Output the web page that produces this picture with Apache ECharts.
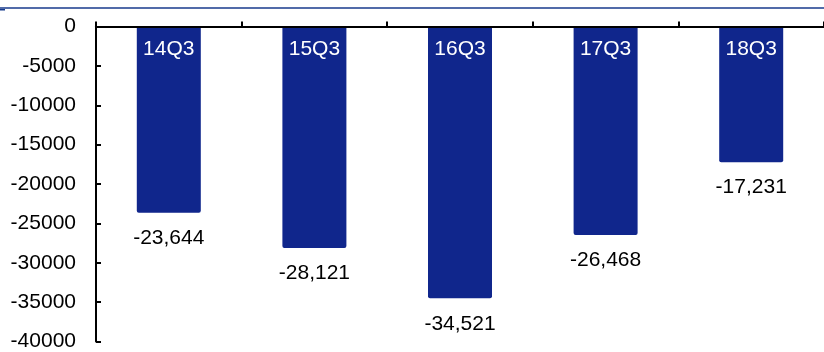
<!DOCTYPE html>
<html>
<head>
<meta charset="utf-8">
<script src="https://cdn.jsdelivr.net/npm/echarts@6/dist/echarts.min.js"></script>
<style>
  html, body { margin: 0; padding: 0; background: #fff; }
  #chart { width: 824px; height: 352px; }
</style>
</head>
<body>
<div id="chart"></div>
<script>
// Quarterly values (Q3 of each year)
const categories = ['14Q3', '15Q3', '16Q3', '17Q3', '18Q3'];
const values = [-23644, -28121, -34521, -26468, -17231];
const yTicks = { min: -40000, max: 0, step: 5000 };

const FONT = '"Liberation Sans", Arial, sans-serif';
const BAR_COLOR = '#10268c';

function withCommas(v) {
  const s = String(Math.abs(v)).replace(/\B(?=(\d{3})+(?!\d))/g, ',');
  return (v < 0 ? '-' : '') + s;
}

const chart = echarts.init(document.getElementById('chart'), null, { renderer: 'canvas' });

chart.setOption({
  animation: false,
  backgroundColor: '#ffffff',
  grid: { left: 96, right: -5, top: 26.5, bottom: 10, containLabel: false },
  graphic: [
    { type: 'line', shape: { x1: 0, y1: 8, x2: 824, y2: 8 },
      style: { stroke: '#173a8c', lineWidth: 1.5 } },
    { type: 'rect', shape: { x: 0, y: 9, width: 5, height: 1.5 },
      style: { fill: '#173a8c' } }
  ],
  xAxis: {
    type: 'category',
    data: categories,
    position: 'top',
    z: 10,
    axisLine: { show: true, lineStyle: { color: '#000', width: 2 } },
    axisTick: { show: true, inside: false, length: 5, lineStyle: { color: '#000', width: 2 } },
    axisLabel: {
      inside: true, margin: 12, color: '#ffffff',
      fontFamily: FONT, fontSize: 21
    },
    splitLine: { show: false }
  },
  yAxis: {
    type: 'value',
    min: yTicks.min, max: yTicks.max, interval: yTicks.step,
    axisLine: { show: true, lineStyle: { color: '#000', width: 2 } },
    axisTick: { show: true, inside: true, length: 5, lineStyle: { color: '#000', width: 2 } },
    axisLabel: {
      margin: 20, color: '#000', fontFamily: FONT, fontSize: 21,
      padding: [4, 0, 0, 0],
      formatter: v => String(v)
    },
    splitLine: { show: false }
  },
  series: [{
    type: 'bar',
    data: values,
    barWidth: 64,
    z: 2,
    itemStyle: { color: BAR_COLOR, borderRadius: [0, 0, 2, 2] },
    label: {
      show: true, position: 'bottom', distance: 15,
      color: '#000', fontFamily: FONT, fontSize: 21,
      formatter: p => withCommas(p.value)
    }
  }]
});
</script>
</body>
</html>
